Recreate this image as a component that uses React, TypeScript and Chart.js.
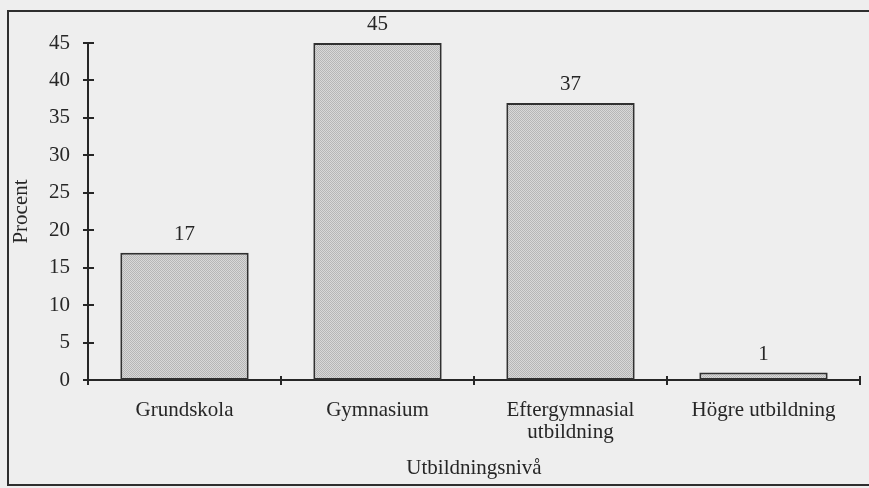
import React, { useEffect, useRef } from "react";
import { Chart, registerables } from "chart.js";

Chart.register(...registerables);

const categories: (string | string[])[] = [
  "Grundskola",
  "Gymnasium",
  ["Eftergymnasial", "utbildning"],
  "Högre utbildning",
];
const values: number[] = [17, 45, 37, 1];
const yTicksMax = 45;
const yTicksStep = 5;
const xTitle = "Utbildningsnivå";
const yTitle = "Procent";

const INK = "#262626";
const BG = "#eeeeee";
const FONT = "'Liberation Serif', 'Times New Roman', serif";
const FS = 21;

function makePattern(): CanvasPattern | string {
  const c = document.createElement("canvas");
  c.width = 2;
  c.height = 2;
  const g = c.getContext("2d");
  if (!g) return "#c8c8c8";
  g.fillStyle = "#d8d8d8";
  g.fillRect(0, 0, 2, 2);
  g.fillStyle = "#b6b6b6";
  g.fillRect(0, 0, 1, 1);
  g.fillRect(1, 1, 1, 1);
  const p = g.createPattern(c, "repeat");
  return p || "#c8c8c8";
}

export default function App() {
  const ref = useRef<HTMLCanvasElement | null>(null);

  useEffect(() => {
    document.body.style.margin = "0";
    const canvas = ref.current;
    if (!canvas) return;

    const bgPlugin = {
      id: "bgFrame",
      beforeDraw(chart: any) {
        const { ctx, width, height } = chart;
        ctx.save();
        ctx.fillStyle = BG;
        ctx.fillRect(0, 0, width, height);
        ctx.strokeStyle = "#2e2e2e";
        ctx.lineWidth = 2;
        ctx.strokeRect(8, 11, width + 20, 474);
        ctx.restore();
      },
    };

    const decoPlugin = {
      id: "deco",
      afterDraw(chart: any) {
        const { ctx } = chart;
        const xs = chart.scales.x;
        const ys = chart.scales.y;
        ctx.save();
        ctx.strokeStyle = INK;
        ctx.lineWidth = 2;
        for (let v = 0; v <= yTicksMax; v += yTicksStep) {
          const py = Math.round(ys.getPixelForValue(v));
          ctx.beginPath();
          ctx.moveTo(xs.left - 5, py);
          ctx.lineTo(xs.left + 6, py);
          ctx.stroke();
        }
        const n = categories.length;
        const step = xs.getPixelForValue(1) - xs.getPixelForValue(0);
        for (let i = 0; i <= n; i++) {
          const px = Math.round(xs.getPixelForValue(i) - step / 2);
          ctx.beginPath();
          ctx.moveTo(px, ys.bottom - 4);
          ctx.lineTo(px, ys.bottom + 5);
          ctx.stroke();
        }
        const meta = chart.getDatasetMeta(0);
        ctx.fillStyle = INK;
        ctx.font = `${FS}px ${FONT}`;
        ctx.textAlign = "center";
        ctx.textBaseline = "alphabetic";
        meta.data.forEach((el: any, i: number) => {
          ctx.fillText(String(values[i]), el.x, el.y - 13);
        });
        ctx.restore();
      },
    };

    const chart = new Chart(canvas, {
      type: "bar",
      data: {
        labels: categories as any,
        datasets: [
          {
            data: values,
            backgroundColor: makePattern() as any,
            borderColor: "#303030",
            borderWidth: 2,
            borderSkipped: false,
            categoryPercentage: 1,
            barPercentage: 0.665,
          },
        ],
      },
      options: {
        animation: false,
        responsive: false,
        devicePixelRatio: 1,
        layout: { padding: { top: 43, right: 9, bottom: 0, left: 0 } },
        plugins: {
          legend: { display: false },
          tooltip: { enabled: false },
        },
        scales: {
          x: {
            grid: { display: false, drawTicks: false },
            border: { display: true, color: INK, width: 2 },
            ticks: {
              color: INK,
              font: { family: FONT, size: FS, lineHeight: 1.05 },
              padding: 19,
              maxRotation: 0,
              autoSkip: false,
            },
            title: {
              display: true,
              text: xTitle,
              color: INK,
              font: { family: FONT, size: FS },
              padding: { top: 0, bottom: 7 },
            },
            afterFit(scale: any) {
              scale.height = 108;
            },
          },
          y: {
            min: 0,
            max: yTicksMax,
            grid: { display: false, drawTicks: false },
            border: { display: true, color: INK, width: 2 },
            ticks: {
              stepSize: yTicksStep,
              color: INK,
              font: { family: FONT, size: FS },
              padding: 18,
            },
            title: {
              display: true,
              text: yTitle,
              color: INK,
              font: { family: FONT, size: FS },
              padding: { top: 9, bottom: 0 },
            },
            afterFit(scale: any) {
              scale.width = 88;
            },
          },
        },
      },
      plugins: [bgPlugin, decoPlugin],
    });

    return () => chart.destroy();
  }, []);

  return <canvas ref={ref} width={869} height={488} style={{ display: "block" }} />;
}
